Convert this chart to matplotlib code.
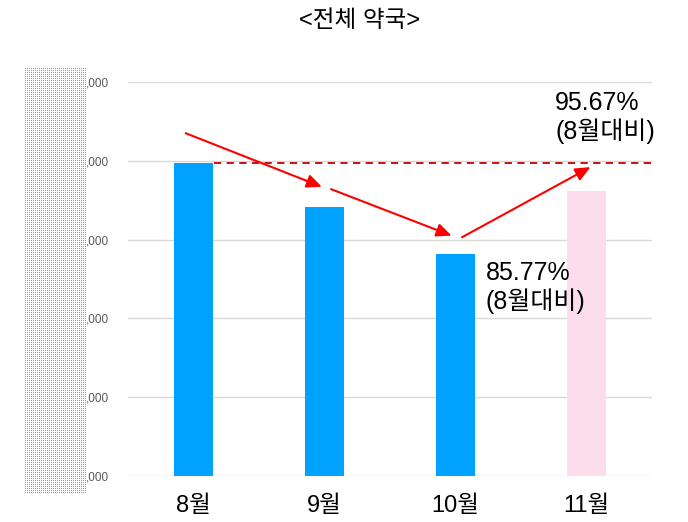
import matplotlib
matplotlib.use("Agg")
import matplotlib.pyplot as plt
import numpy as np

# 라틴 문자는 Arial 계열, 한글은 Noto CJK
plt.rcParams["font.family"] = ["Liberation Sans", "Noto Sans CJK KR"]

# 데이터 (y축 숫자는 가려져 있어 눈금 단위로 읽음)
months = ["8월", "9월", "10월", "11월"]
values = [3.97, 3.42, 2.82, 3.62]
bar_colors = ["#00A2FF", "#00A2FF", "#00A2FF", "#FBDDEB"]
y_ticks = [0, 1, 2, 3, 4, 5]
y_tick_labels = [",000"] * 6
title = "<전체 약국>"
note_11 = "95.67%\n(8월대비)"
note_10 = "85.77%\n(8월대비)"

fig = plt.figure(figsize=(6.88, 5.22), dpi=100)
ax = fig.add_axes([128 / 688, 1 - 476 / 522, 524 / 688, 394 / 522])

x = range(len(months))
ax.bar(x, values, width=0.305, color=bar_colors, zorder=2)

ax.set_xlim(-0.5, 3.5)
ax.set_ylim(0, 5)
ax.set_yticks(y_ticks)
ax.set_yticklabels(y_tick_labels, fontsize=8.5, color="#595959")
ax.set_xticks(list(x))
ax.set_xticklabels(months, fontsize=17, color="#000000")
ax.tick_params(axis="y", length=0, pad=14)
ax.tick_params(axis="x", length=0, pad=14)
ax.grid(axis="y", color="#D9D9D9", linewidth=1, zorder=0)
for s in ax.spines.values():
    s.set_visible(False)

# 8월 기준 점선
ax.plot([0.153, 3.5], [values[0], values[0]], ls=(0, (4, 3)),
        color="#C00000", lw=1.3, zorder=3)

# 화살표
arrow_kw = dict(arrowstyle="-|>,head_length=0.9,head_width=0.4",
                color="#FF0000", lw=1.5, shrinkA=0, shrinkB=0)
arrows = [((-0.06, 4.35), (0.98, 3.67)),
          ((1.05, 3.64), (1.97, 3.05)),
          ((2.05, 3.03), (3.03, 3.92))]
for start, end in arrows:
    ax.annotate("", xy=end, xytext=start, arrowprops=arrow_kw,
                annotation_clip=False, zorder=4)

ax.text(2.76, 4.89, note_11, fontsize=18, va="top", ha="left",
        linespacing=1.18, zorder=5)
ax.text(2.23, 2.73, note_10, fontsize=18, va="top", ha="left",
        linespacing=1.18, zorder=5)

fig.text(360 / 688, 1 - 21 / 522, title, ha="center", va="center", fontsize=17)

# y축 숫자를 가리는 점무늬 박스 (2px 간격의 회색 점)
h, w = 426, 62
dots = np.ones((h, w, 3))
dots[::2, ::2] = 0.6
fig.figimage(dots, xo=25, yo=522 - 494, zorder=10)

fig.savefig("out.png", dpi=100, facecolor="white")
